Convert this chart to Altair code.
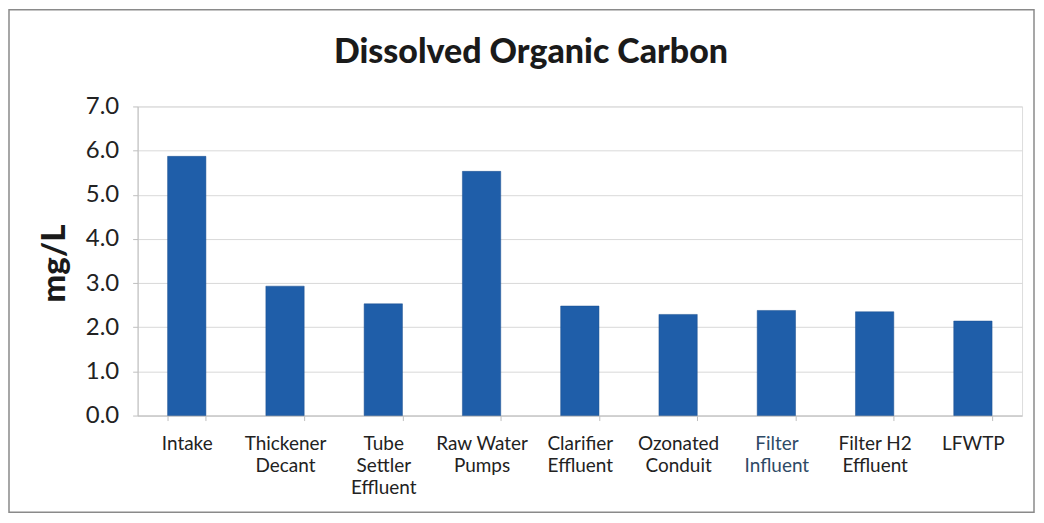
import altair as alt
import pandas as pd

categories = ["Intake", "Thickener\nDecant", "Tube\nSettler\nEffluent", "Raw Water\nPumps",
              "Clarifier\nEffluent", "Ozonated\nConduit", "Filter\nInfluent", "Filter H2\nEffluent", "LFWTP"]
doc_values = [5.87, 2.93, 2.53, 5.53, 2.48, 2.29, 2.38, 2.35, 2.14]
y_ticks = [0, 1, 2, 3, 4, 5, 6, 7]

df = pd.DataFrame({"site": categories, "doc": doc_values})

FONT = "Lato"

bars = alt.Chart(df).mark_bar(color="#1f5ea9", stroke="#1a4f8f", strokeWidth=0.5).encode(
    x=alt.X("site:N", sort=categories, title=None,
            scale=alt.Scale(paddingInner=0.61, paddingOuter=0.305),
            axis=alt.Axis(labelAngle=0, labelExpr="split(datum.label, '\\n')",
                          labelFont=FONT, labelFontSize=19, labelFontWeight="normal",
                          labelColor={"condition": {"test": "datum.value == 'Filter\\nInfluent'", "value": "#2e4a66"},
                                      "value": "#222222"},
                          labelLineHeight=22, labelPadding=14, labelBaseline="top",
                          tickBand="extent", tickSize=5, tickColor="#bfbfbf",
                          domainColor="#bfbfbf", grid=False)),
    y=alt.Y("doc:Q", title="mg/L",
            scale=alt.Scale(domain=[0, 7], nice=False),
            axis=alt.Axis(values=y_ticks, format=".1f", labelFont=FONT, labelFontSize=24,
                          labelColor="#222222", labelPadding=14, tickSize=5, tickColor="#bfbfbf",
                          domainColor="#bfbfbf", gridColor="#d9d9d9",
                          titleFont=FONT, titleFontSize=33, titleFontWeight=900, titleColor="#1a1a1a",
                          titleAngle=-90, titleX=-83, titleY=157, titleAlign="center", titleBaseline="middle")),
)

border = alt.Chart(pd.DataFrame({"b": [0]})).mark_rect(fill=None, stroke="#8a8a8a", strokeWidth=1.5).encode(
    x=alt.value(-129), x2=alt.value(899), y=alt.value(-97), y2=alt.value(407)
)

chart = alt.layer(border, bars).properties(
    width=887, height=310,
    autosize=alt.AutoSizeParams(type="none"),
    padding={"left": 130, "top": 98, "right": 14, "bottom": 99},
    title=alt.TitleParams("Dissolved Organic Carbon", font=FONT, fontSize=34, fontWeight=900,
                          color="#1a1a1a", anchor="middle", frame="group", offset=-61, dx=-49),
).configure_view(stroke=None).configure(background="white")

chart.save("out.html", embed_options={"renderer": "svg", "actions": False})
